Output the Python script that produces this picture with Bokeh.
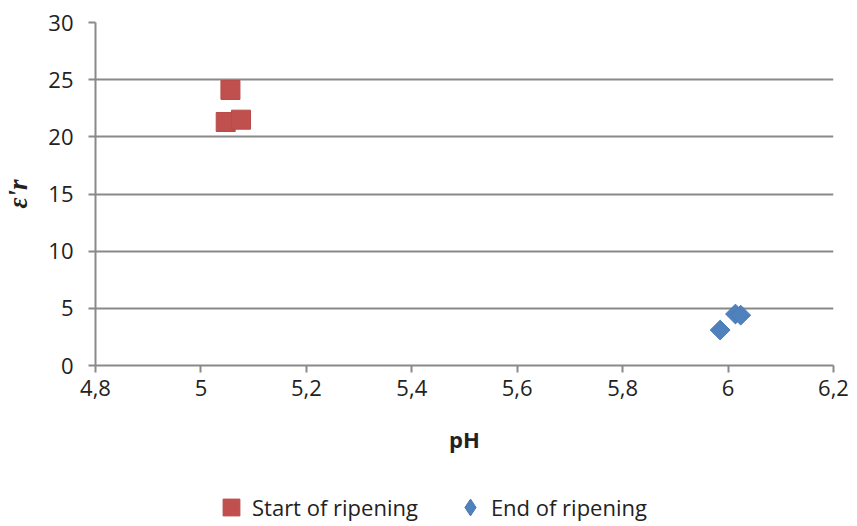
import math
from bokeh.plotting import figure
from bokeh.layouts import column
from bokeh.models import (FixedTicker, CustomJSTickFormatter, Legend, LegendItem, Range1d)
from bokeh.embed import file_html
from bokeh.resources import INLINE

# Data
start_ph = [5.056, 5.047, 5.076]
start_er = [24.1, 21.3, 21.5]
end_ph = [5.985, 6.014, 6.024]
end_er = [3.1, 4.5, 4.4]

x_ticks = [4.8, 5.0, 5.2, 5.4, 5.6, 5.8, 6.0, 6.2]
y_ticks = [0, 5, 10, 15, 20, 25, 30]

FONT = "Open Sans"
GRAY = "#898989"
RED, RED_LINE = "#C0504D", "#B84A47"
BLUE, BLUE_LINE = "#4F81BD", "#4A7AB5"

p = figure(width=857, height=460, output_backend="svg", toolbar_location=None,
           x_range=Range1d(4.8, 6.2), y_range=Range1d(0, 30),
           min_border_left=95, min_border_top=22, min_border_right=24,
           min_border_bottom=95)

p.outline_line_color = None
p.xgrid.grid_line_color = None
p.ygrid.grid_line_color = GRAY
p.ygrid.grid_line_width = 2
p.ygrid.ticker = FixedTicker(ticks=y_ticks)

for ax in (p.xaxis[0], p.yaxis[0]):
    ax.axis_line_color = GRAY
    ax.axis_line_width = 2
    ax.major_tick_line_color = GRAY
    ax.major_tick_line_width = 2
    ax.major_tick_out = 7
    ax.major_tick_in = 0
    ax.minor_tick_line_color = None
    ax.major_label_text_font = FONT
    ax.major_label_text_font_size = "22px"
    ax.major_label_text_color = "#222222"
    ax.axis_label_text_font = FONT
    ax.axis_label_text_font_size = "22px"
    ax.axis_label_text_font_style = "bold"
    ax.axis_label_text_color = "#222222"

p.xaxis.ticker = FixedTicker(ticks=x_ticks)
p.xaxis.formatter = CustomJSTickFormatter(code="""
var s = (Math.round(tick*10)/10).toString();
return s.replace('.', ',');
""")
p.xaxis.axis_label = "pH"
p.xaxis.major_label_standoff = 7
p.xaxis.axis_label_standoff = 25

p.yaxis.ticker = FixedTicker(ticks=y_ticks)
p.yaxis.axis_label = "ε'r"
p.yaxis.axis_label_text_font = "Liberation Serif"
p.yaxis.axis_label_text_font_size = "27px"
p.yaxis.axis_label_text_font_style = "bold italic"
p.yaxis.major_label_standoff = 15
p.yaxis.axis_label_standoff = 12

p.scatter(start_ph, start_er, marker="square", size=19,
          fill_color=RED, line_color=RED_LINE, line_width=1)
p.scatter(end_ph, end_er, marker="square", size=14, angle=math.pi / 4,
          fill_color=BLUE, line_color=BLUE_LINE, line_width=1)

# Legend strip below the chart (same series, drawn out of view so only the legend shows)
lg = figure(width=857, height=66, output_backend="svg", toolbar_location=None,
            x_range=Range1d(0, 1), y_range=Range1d(0, 1),
            x_axis_location=None, y_axis_location=None,
            min_border_left=0, min_border_right=0, min_border_top=0, min_border_bottom=0)
lg.outline_line_color = None
lg.grid.grid_line_color = None
l1 = lg.scatter(start_ph, start_er, marker="square", size=19,
                fill_color=RED, line_color=RED_LINE, line_width=1)
l2 = lg.scatter(end_ph, end_er, marker="diamond", size=20,
                fill_color=BLUE, line_color=BLUE_LINE, line_width=1)

legend = Legend(items=[LegendItem(label="Start of ripening", renderers=[l1]),
                       LegendItem(label="End of ripening", renderers=[l2])],
                orientation="horizontal", location=(115, -2),
                border_line_color=None, background_fill_alpha=0,
                label_text_font=FONT, label_text_font_size="22px",
                label_text_color="#222222", glyph_width=42, glyph_height=42,
                spacing=31, label_standoff=-14, margin=0, padding=0)
lg.add_layout(legend, "center")

layout = column(p, lg, spacing=0)
open("out.html", "w").write(file_html(layout, INLINE))
